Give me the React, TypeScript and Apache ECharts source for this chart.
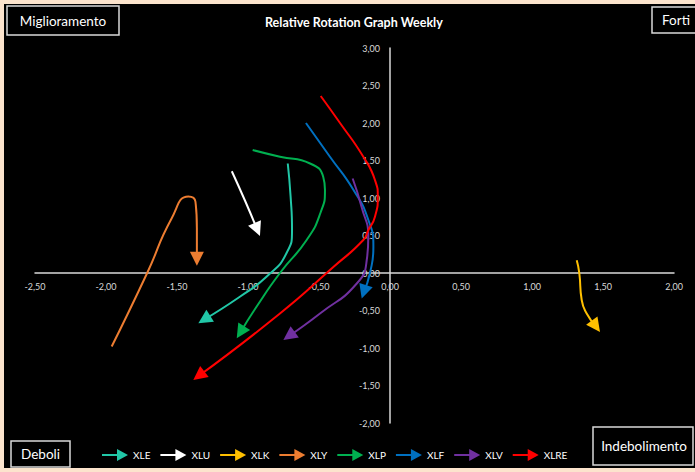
import React, { useEffect, useRef } from "react";
import * as echarts from "echarts";

const names = ["XLE", "XLU", "XLK", "XLY", "XLP", "XLF", "XLV", "XLRE"];
const colors = ["#21c7a7", "#ffffff", "#ffc000", "#ed7d31", "#00b050", "#0070c0", "#7030a0", "#ff0000"];

const XLE: number[][] = [[-0.72, 1.46], [-0.7, 1.02], [-0.69, 0.57], [-0.73, 0.26], [-0.87, -0.05], [-1.06, -0.32], [-1.308, -0.62]];
const XLU: number[][] = [[-1.114, 1.357], [-1.02, 0.96], [-0.935, 0.58]];
const XLK: number[][] = [[1.315, 0.17], [1.333, 0.0], [1.35, -0.36], [1.385, -0.54], [1.45, -0.71]];
const XLY: number[][] = [[-1.96, -0.98], [-1.71, 0.0], [-1.54, 0.72], [-1.42, 1.02], [-1.37, 0.95], [-1.36, 0.6], [-1.36, 0.19]];
const XLP: number[][] = [[-0.967, 1.64], [-0.775, 1.55], [-0.563, 1.46], [-0.47, 1.28], [-0.458, 1.11], [-0.49, 0.8], [-0.587, 0.44], [-0.775, 0.0], [-0.94, -0.45], [-1.053, -0.79]];
const XLF: number[][] = [[-0.592, 2.0], [-0.423, 1.55], [-0.258, 1.11], [-0.153, 0.71], [-0.117, 0.35], [-0.141, 0.0], [-0.184, -0.25]];
const XLV: number[][] = [[-0.263, 1.26], [-0.2, 0.88], [-0.153, 0.48], [-0.164, 0.17], [-0.234, -0.14], [-0.493, -0.54], [-0.711, -0.84]];
const XLRE: number[][] = [[-0.488, 2.36], [-0.352, 2.0], [-0.188, 1.55], [-0.106, 1.24], [-0.086, 1.02], [-0.106, 0.75], [-0.153, 0.57], [-0.188, 0.44], [-0.399, 0.08], [-0.775, -0.54], [-1.346, -1.37]];

const seriesData = [XLE, XLU, XLK, XLY, XLP, XLF, XLV, XLRE];

const quadrantLabels = ["Miglioramento", "Forti", "Deboli", "Indebolimento"];

const X_MIN = -2.5, X_MAX = 2, Y_MIN = -2, Y_MAX = 3, STEP = 0.5;

const FONT = "Lato, 'Open Sans', sans-serif";

const fmt = (v: number) => v.toFixed(2).replace(".", ",");

export default function App() {
  const ref = useRef<HTMLDivElement>(null);
  useEffect(() => {
    if (!ref.current) return;
    const chart = echarts.init(ref.current, undefined, { renderer: "svg" });
    const W = 691, H = 464;
    const grid = { left: 31, right: 21, top: 44, bottom: 45 };
    const gridW = W - grid.left - grid.right;
    const gridH = H - grid.top - grid.bottom;
    const xOffset = -gridH * (0 - Y_MIN) / (Y_MAX - Y_MIN);
    const yOffset = -gridW * (0 - X_MIN) / (X_MAX - X_MIN);

    const series: any[] = [];
    seriesData.forEach((d, i) => {
      series.push({
        type: "line",
        name: names[i],
        data: d,
        smooth: 0.55,
        showSymbol: false,
        symbol: "none",
        lineStyle: { color: colors[i], width: 2 },
        itemStyle: { color: colors[i] },
        z: 3,
      });
      const n = d.length;
      series.push({
        type: "lines",
        name: names[i],
        coordinateSystem: "cartesian2d",
        data: [{ coords: [d[n - 2], d[n - 1]] }],
        symbol: ["none", "triangle"],
        symbolSize: 14,
        lineStyle: { color: colors[i], width: 0, opacity: 1 },
        z: 4,
        silent: true,
      });
    });

    const boxStyle = { fill: "#000", stroke: "#d9d9d9", lineWidth: 1.5 };
    const txt = (text: string, x: number, y: number) => ({
      type: "text",
      style: { text, x, y, align: "center", verticalAlign: "middle", fill: "#ffffff", fontSize: 13.5, fontFamily: FONT },
      z: 11,
    });

    const axisLabel = { color: "#d9d9d9", fontSize: 9, formatter: fmt, fontFamily: FONT };

    chart.setOption({
      animation: false,
      backgroundColor: "#000000",
      textStyle: { fontFamily: FONT },
      title: {
        text: "Relative Rotation Graph Weekly",
        left: 261,
        top: 12,
        padding: 0,
        textStyle: { color: "#ffffff", fontSize: 12.5, fontWeight: "bold", fontFamily: FONT },
      },
      grid: { ...grid, containLabel: false },
      xAxis: {
        type: "value",
        min: X_MIN,
        max: X_MAX,
        interval: STEP,
        position: "bottom",
        offset: xOffset,
        axisLine: { onZero: false, lineStyle: { color: "#d9d9d9", width: 1.5 } },
        axisTick: { show: false },
        splitLine: { show: false },
        axisLabel: { ...axisLabel, margin: 9 },
      },
      yAxis: {
        type: "value",
        min: Y_MIN,
        max: Y_MAX,
        interval: STEP,
        position: "left",
        offset: yOffset,
        axisLine: { onZero: false, lineStyle: { color: "#d9d9d9", width: 1.5 } },
        axisTick: { show: false },
        splitLine: { show: false },
        axisLabel: { ...axisLabel, margin: 10 },
      },
      legend: {
        data: names,
        left: 98,
        top: 445,
        padding: 0,
        itemWidth: 26,
        itemHeight: 12,
        itemGap: 10,
        icon: "path://M0,5 L15,5 L15,0 L26,6 L15,12 L15,7 L0,7 Z",
        itemStyle: { borderWidth: 0 },
        textStyle: { color: "#ffffff", fontSize: 10, fontFamily: FONT },
      },
      graphic: [
        { type: "rect", shape: { x: 3, y: 2, width: 112, height: 29 }, style: boxStyle, z: 10 },
        txt(quadrantLabels[0], 59, 16.5),
        { type: "rect", shape: { x: 648, y: 3, width: 50, height: 26 }, style: boxStyle, z: 10 },
        txt(quadrantLabels[1], 672, 16),
        { type: "rect", shape: { x: 7, y: 437, width: 59, height: 26 }, style: boxStyle, z: 10 },
        txt(quadrantLabels[2], 36.5, 450),
        { type: "rect", shape: { x: 589, y: 423, width: 100, height: 38 }, style: boxStyle, z: 10 },
        txt(quadrantLabels[3], 640, 442),
      ],
      series,
    });
    return () => chart.dispose();
  }, []);

  return (
    <div style={{ position: "fixed", left: 0, top: 0, width: 695, height: 472, background: "#fce4cd", overflow: "hidden" }}>
      <div ref={ref} style={{ position: "absolute", left: 4, top: 4, width: 691, height: 464 }} />
    </div>
  );
}
